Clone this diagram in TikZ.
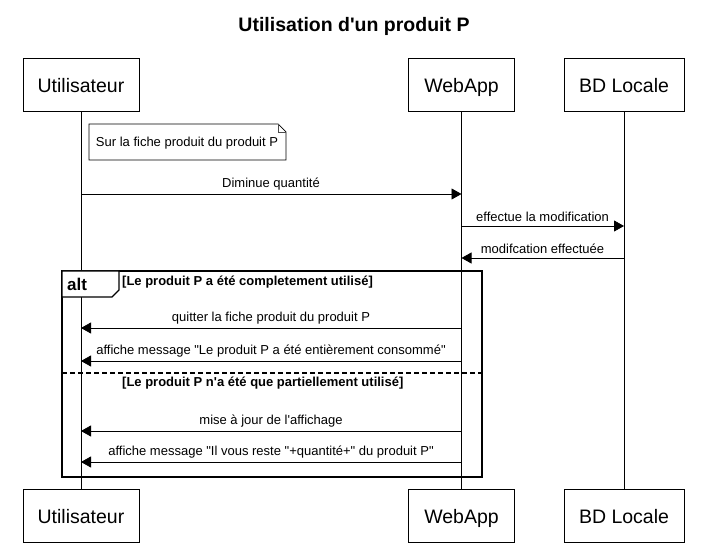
\documentclass[tikz,border=0pt]{standalone}
\usepackage{fontspec}
\setmainfont{Liberation Sans}[Ligatures=TeXOff]
\usetikzlibrary{arrows.meta}
\begin{document}
\begin{tikzpicture}[x=1pt,y=-1pt,
  part/.style={draw, line width=1pt, fill=white, minimum height=53pt, inner xsep=0pt,
    text height=18pt, text depth=2pt, font=\fontsize{19.5}{22}\selectfont},
  msg/.style={-{Triangle[length=10pt,width=11pt]}, line width=0.8pt},
  lbl/.style={font=\fontsize{13}{15}\selectfont, inner sep=0pt},
  guard/.style={font=\bfseries\fontsize{13}{15}\selectfont, inner sep=0pt, anchor=west},
  life/.style={line width=0.8pt}]
\useasboundingbox (0,0) rectangle (701,545);
\fill[white] (0,0) rectangle (701,545);
% title
\node[font=\bfseries\fontsize{19.5}{22}\selectfont] (title) at (354,26) {Utilisation d'un produit P};
% participants
\node[part, minimum width=116pt] (u) at (81,85) {Utilisateur};
\node[part, minimum width=106pt] (w) at (461.5,85) {WebApp};
\node[part, minimum width=120pt] (b) at (624,85) {BD Locale};
\node[part, minimum width=116pt] (ub) at (81,515.5) {Utilisateur};
\node[part, minimum width=106pt] (wb) at (461.5,515.5) {WebApp};
\node[part, minimum width=120pt] (bb) at (624,515.5) {BD Locale};
% lifelines
\draw[life] (u.south) -- (ub.north);
\draw[life] (w.south) -- (wb.north);
\draw[life] (b.south) -- (bb.north);
% note
\draw[line width=0.7pt, fill=white] (89,124) -- (278,124) -- (286,132) -- (286,160) -- (89,160) -- cycle;
\draw[line width=0.7pt, draw=black!70] (278,124) -- (278,132) -- (286,132);
\node[lbl] (note) at (187,143.5) {Sur la fiche produit du produit P};
% message end points
\foreach \n/\y in {1/194,2/226,3/258,4/328,5/361,6/431,7/462} {
  \coordinate (u\n) at (u.south |- 0,\y);
  \coordinate (w\n) at (w.south |- 0,\y);
  \coordinate (b\n) at (b.south |- 0,\y);
}
\draw[msg] (u1) -- (w1);
\node[lbl] (l1) at (271,184.5) {Diminue quantité};
\draw[msg] (w2) -- (b2);
\node[lbl] (l2) at (542.5,216.5) {effectue la modification};
\draw[msg] (b3) -- (w3);
\node[lbl] (l3) at (542.5,248.5) {modifcation effectuée};
% alt frame
\draw[line width=1.5pt] (62,271) rectangle (482,477);
\draw[line width=1.2pt, fill=white] (62,271) -- (119,271) -- (119,290) -- (112,297) -- (62,297) -- cycle;
\node[font=\bfseries\fontsize{17}{19}\selectfont, inner sep=0pt, anchor=west] (alt) at (67,284) {alt};
\node[guard] (g1) at (122,282) {[Le produit P a été completement utilisé]};
\draw[msg] (w4) -- (u4);
\node[lbl] (l4) at (271,318.5) {quitter la fiche produit du produit P};
\draw[msg] (w5) -- (u5);
\node[lbl] (l5) at (271,351) {affiche message "Le produit P a été entièrement consommé"};
\draw[line width=1.3pt, dash pattern=on 5pt off 3pt] (62,373) -- (482,373);
\node[guard] (g2) at (122,383) {[Le produit P n'a été que partiellement utilisé]};
\draw[msg] (w6) -- (u6);
\node[lbl] (l6) at (271,421.5) {mise à jour de l'affichage};
\draw[msg] (w7) -- (u7);
\node[lbl] (l7) at (271,452.5) {affiche message "Il vous reste "+quantité+" du produit P"};
\end{tikzpicture}
\end{document}
